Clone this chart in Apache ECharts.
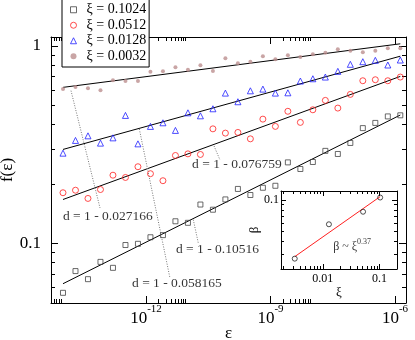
<!DOCTYPE html>
<html><head><meta charset="utf-8">
<script src="https://cdn.jsdelivr.net/npm/echarts@6/dist/echarts.min.js"></script>
<style>html,body{margin:0;padding:0;background:#fff}#c{width:415px;height:340px}</style>
</head><body><div id="c"></div>
<script>
// ---- data ----
const eps = [1e-14, 2e-14, 4e-14, 8e-14, 1.6e-13, 3.2e-13, 6.4e-13, 1.28e-12, 2.56e-12, 5.12e-12,
  1.024e-11, 2.048e-11, 4.096e-11, 8.192e-11, 1.6384e-10, 3.2768e-10, 6.5536e-10, 1.31072e-9,
  2.62144e-9, 5.24288e-9, 1.048576e-8, 2.097152e-8, 4.194304e-8, 8.388608e-8, 1.6777216e-7,
  3.3554432e-7, 6.7108864e-7, 1.34217728e-6];
const f1024 = [0.0561, 0.0723, 0.0658, 0.0805, 0.0751, 0.0980, 0.0994, 0.1073, 0.1100, 0.1293,
  0.1270, 0.1572, 0.1480, 0.1669, 0.1886, 0.1757, 0.1912, 0.1957, 0.2571, 0.2380,
  0.2583, 0.2941, 0.2836, 0.3225, 0.3835, 0.4075, 0.4396, 0.4453];
const f0512 = [0.1804, 0.1858, 0.1688, 0.1873, 0.2214, 0.2156, 0.2444, 0.2253, 0.2076, 0.2787,
  0.2840, 0.2820, 0.3803, 0.3618, 0.3647, 0.3384, 0.4259, 0.3913, 0.4667, 0.4100,
  0.4750, 0.5301, 0.4845, 0.5684, 0.6667, 0.6745, 0.6667, 0.6960];
const f0128 = [0.2863, 0.3322, 0.3505, 0.3219, 0.3423, 0.4448, 0.3192, 0.3913, 0.4081, 0.3734,
  0.4585, 0.4427, 0.4806, 0.5771, 0.5217, 0.5928, 0.6047, 0.5771, 0.5791, 0.6644,
  0.6823, 0.6960, 0.7439, 0.8075, 0.8325, 0.8461, 0.8010, 0.8490];
const f0032 = [0.605, 0.619, 0.610, 0.596, 0.670, 0.664, 0.664, 0.740, 0.744, 0.780,
  0.758, 0.798, 0.746, 0.866, 0.817, 0.832, 0.886, 0.856, 0.897, 0.880,
  0.908, 0.925, 0.962, 0.946, 0.929, 0.946, 0.973, 0.973];
const seriesNames = ['ξ = 0.1024', 'ξ = 0.0512', 'ξ = 0.0128', 'ξ = 0.0032'];

// power-law fits (start / end of each fitted line)
const fitEps = [1e-14, 1.342e-6];
const fit1024 = [0.0624, 0.4468];
const fit0512 = [0.1667, 0.7014];
const fit0128 = [0.299, 0.8879];
const fit0032 = [0.617, 1.026];

// annotations: text, anchor, dotted connector ends
const annoText = ['d = 1 - 0.027166', 'd = 1 - 0.058165', 'd = 1 - 0.076759', 'd = 1 - 0.10516'];
const annoEps = [1e-14, 4.60e-13, 1.286e-11, 5.28e-12];
const annoF = [0.1375, 0.0629, 0.2507, 0.0928];
const connEps = [[1.56e-14, 7.80e-14], [6.90e-13, 3.78e-12], [4.36e-11, 6.07e-11], [1.38e-11, 1.82e-11]];
const connF = [[0.5935, 0.1510], [0.3797, 0.0667], [0.3113, 0.2644], [0.1317, 0.1003]];

// inset: exponent beta vs xi
const xiVals = [0.0032, 0.0128, 0.0512, 0.1024];
const betaVals = [0.027166, 0.058165, 0.076759, 0.10516];
const betaFitXi = [0.0032, 0.1024];
const betaFit = [0.0284, 0.1073];
const insetNoteXi = 0.0152, insetNoteBeta = 0.0365;

// ticks
const xMajor = [1e-12, 1e-9, 1e-6];
const xMajorExp = ['-12', '-9', '-6'];
const xMinor = [6e-15, 7e-15, 8e-15, 9e-15, 2e-12, 3e-12, 4e-12, 5e-12, 6e-12, 7e-12, 8e-12, 9e-12,
  2e-9, 3e-9, 4e-9, 5e-9, 6e-9, 7e-9, 8e-9, 9e-9];
const yMajor = [0.1, 1];
const yMajorLabels = ['0.1', '1'];
const yMinor = [0.06, 0.07, 0.08, 0.09, 0.2, 0.3, 0.4, 0.5, 0.6, 0.7, 0.8, 0.9];
const ixMajor = [0.01, 0.1];
const ixMajorLabels = ['0.01', '0.1'];
const ixMinor = [0.002, 0.003, 0.004, 0.005, 0.006, 0.007, 0.008, 0.009, 0.02, 0.03, 0.04, 0.05, 0.06, 0.07, 0.08, 0.09];
const iyMajor = [0.1];
const iyMajorLabels = ['0.1'];
const iyMinor = [0.03, 0.04, 0.05, 0.06, 0.07, 0.08, 0.09];

// ---- build ----
const L = Math.log10;
const FONT = '"Liberation Serif", "Times New Roman", serif';
const X = {min: -14.289, max: -5.735}, Y = {min: -1.3026, max: 0.0456};
const IX = {min: -2.737, max: -0.693}, IY = {min: -1.6654, max: -0.9154};
const pts = (xs, ys) => xs.map((x, i) => [L(x), L(ys[i])]);
const pick = (vals, labels) => v => { let k = 0; vals.forEach((m, i) => { if (Math.abs(L(m) - v) < Math.abs(L(vals[k]) - v)) k = i; }); return labels[k]; };

function axes(grid, rng, posA, posB, majors, minors, majLen, minLen, label, name) {
  const base = (pos, vals, len, showLine) => ({
    type: 'value', gridIndex: grid, min: rng.min, max: rng.max, position: pos,
    axisLine: {show: showLine, onZero: false, lineStyle: {color: '#000', width: 1}},
    axisTick: {show: true, inside: true, length: len, customValues: vals.map(L), lineStyle: {color: '#000', width: 1}},
    axisLabel: {show: false}, splitLine: {show: false}
  });
  const a = base(posA, majors, majLen, true);
  a.axisLabel = Object.assign({show: true, customValues: majors.map(L)}, label);
  Object.assign(a, {nameMoveOverlap: false}, name || {});
  return [a, base(posA, minors, minLen, false), base(posB, majors, majLen, true), base(posB, minors, minLen, false)];
}

const xAxes = axes(0, X, 'bottom', 'top', xMajor, xMinor, 7, 4, {
  margin: 1,
  formatter: v => '{b|10}{s|' + pick(xMajor, xMajorExp)(v) + '}',
  rich: {b: {fontSize: 17, fontFamily: FONT, color: '#000', lineHeight: 23, verticalAlign: 'bottom'},
         s: {fontSize: 11, fontFamily: FONT, color: '#000', lineHeight: 11, verticalAlign: 'top'}}
}, {name: 'ε', nameLocation: 'middle', nameGap: 22, nameTextStyle: {fontSize: 17, fontFamily: FONT, color: '#000'}})
.concat(axes(1, IX, 'bottom', 'top', ixMajor, ixMinor, 5, 3, {
  margin: 4, fontSize: 12, fontFamily: FONT, color: '#000', formatter: pick(ixMajor, ixMajorLabels)
}, {name: 'ξ', nameLocation: 'middle', nameGap: 17, nameTextStyle: {fontSize: 13, fontFamily: FONT, color: '#000'}}));

const yAxes = axes(0, Y, 'left', 'right', yMajor, yMinor, 7, 4, {
  margin: 10, fontSize: 17, fontFamily: FONT, color: '#000', formatter: pick(yMajor, yMajorLabels)
}, {name: 'f(ε)', nameLocation: 'middle', nameGap: 35, nameRotate: 90, nameTextStyle: {fontSize: 17, fontFamily: FONT, color: '#000'}})
.concat(axes(1, IY, 'left', 'right', iyMajor, iyMinor, 5, 3, {
  margin: 2, fontSize: 12, fontFamily: FONT, color: '#000', formatter: pick(iyMajor, iyMajorLabels)
}, {name: 'β', nameLocation: 'middle', nameGap: 20, nameRotate: 90, nameTextStyle: {fontSize: 13, fontFamily: FONT, color: '#000'}}));

const styles = [
  {symbol: 'rect', symbolSize: 5, itemStyle: {color: 'rgba(255,255,255,0)', borderColor: '#444', borderWidth: 1}},
  {symbol: 'circle', symbolSize: 6, itemStyle: {color: 'rgba(255,255,255,0)', borderColor: '#ff2020', borderWidth: 1}},
  {symbol: 'triangle', symbolSize: 6, itemStyle: {color: 'rgba(255,255,255,0)', borderColor: '#2020ff', borderWidth: 1}},
  {symbol: 'circle', symbolSize: 4, itemStyle: {color: '#bc8f8f', borderWidth: 0}}
];
const vals = [f1024, f0512, f0128, f0032];
const fits = [fit1024, fit0512, fit0128, fit0032];

const series = [];
vals.forEach((v, i) => series.push(Object.assign({
  type: 'scatter', name: seriesNames[i], xAxisIndex: 0, yAxisIndex: 0, data: pts(eps, v), z: 3
}, styles[i])));
fits.forEach(ft => series.push({type: 'line', xAxisIndex: 0, yAxisIndex: 0, data: pts(fitEps, ft), symbol: 'none',
  lineStyle: {color: '#000', width: 1}, z: 2}));
connEps.forEach((ce, i) => series.push({type: 'line', xAxisIndex: 0, yAxisIndex: 0, data: pts(ce, connF[i]), symbol: 'none',
  lineStyle: {color: '#777', width: 1, type: [1, 1.5]}, z: 2}));
series.push({type: 'scatter', xAxisIndex: 0, yAxisIndex: 0, symbolSize: 0, silent: true, z: 4,
  data: annoText.map((t, i) => ({value: [L(annoEps[i]), L(annoF[i])], label: {formatter: t}})),
  label: {show: true, position: 'right', distance: 0, fontSize: 13.5, fontFamily: FONT, color: '#000'}});
// inset
series.push({type: 'line', xAxisIndex: 4, yAxisIndex: 4, data: pts(betaFitXi, betaFit), symbol: 'none',
  lineStyle: {color: '#ff2020', width: 1}, z: 2});
series.push({type: 'scatter', xAxisIndex: 4, yAxisIndex: 4, data: pts(xiVals, betaVals), symbol: 'circle', symbolSize: 5,
  itemStyle: {color: 'rgba(255,255,255,0)', borderColor: '#222', borderWidth: 1}, z: 3});
series.push({type: 'scatter', xAxisIndex: 4, yAxisIndex: 4, symbolSize: 0, silent: true,
  data: [[L(insetNoteXi), L(insetNoteBeta)]],
  label: {show: true, position: 'right', distance: 0, formatter: '{a|β ~ ξ}{s|0.37}',
    rich: {a: {fontSize: 12, fontFamily: FONT, color: '#000', lineHeight: 15, verticalAlign: 'bottom'},
           s: {fontSize: 8, fontFamily: FONT, color: '#000', lineHeight: 8, verticalAlign: 'top'}}}});

const chart = echarts.init(document.getElementById('c'), null, {renderer: 'canvas'});
chart.setOption({
  animation: false,
  backgroundColor: '#fff',
  grid: [
    {left: 51, top: 37, width: 355, height: 266, containLabel: false, outerBoundsMode: 'none'},
    {left: 281, top: 191, width: 116, height: 78, show: true, backgroundColor: '#fff', borderWidth: 0, containLabel: false, outerBoundsMode: 'none'}
  ],
  legend: {
    orient: 'vertical', left: 62, top: -1, padding: [3, 3, 3, 8], itemGap: 0, itemWidth: 6, itemHeight: 6,
    backgroundColor: '#fff', borderColor: '#000', borderWidth: 1, borderRadius: 0, selectedMode: false,
    textStyle: {fontFamily: FONT, fontSize: 14, color: '#000', lineHeight: 15.5, padding: [0, 0, 0, 5]},
    data: seriesNames.map((n, i) => ({name: n, icon: styles[i].symbol, itemStyle: styles[i].itemStyle}))
  },
  xAxis: xAxes,
  yAxis: yAxes,
  series: series
});
</script></body></html>
